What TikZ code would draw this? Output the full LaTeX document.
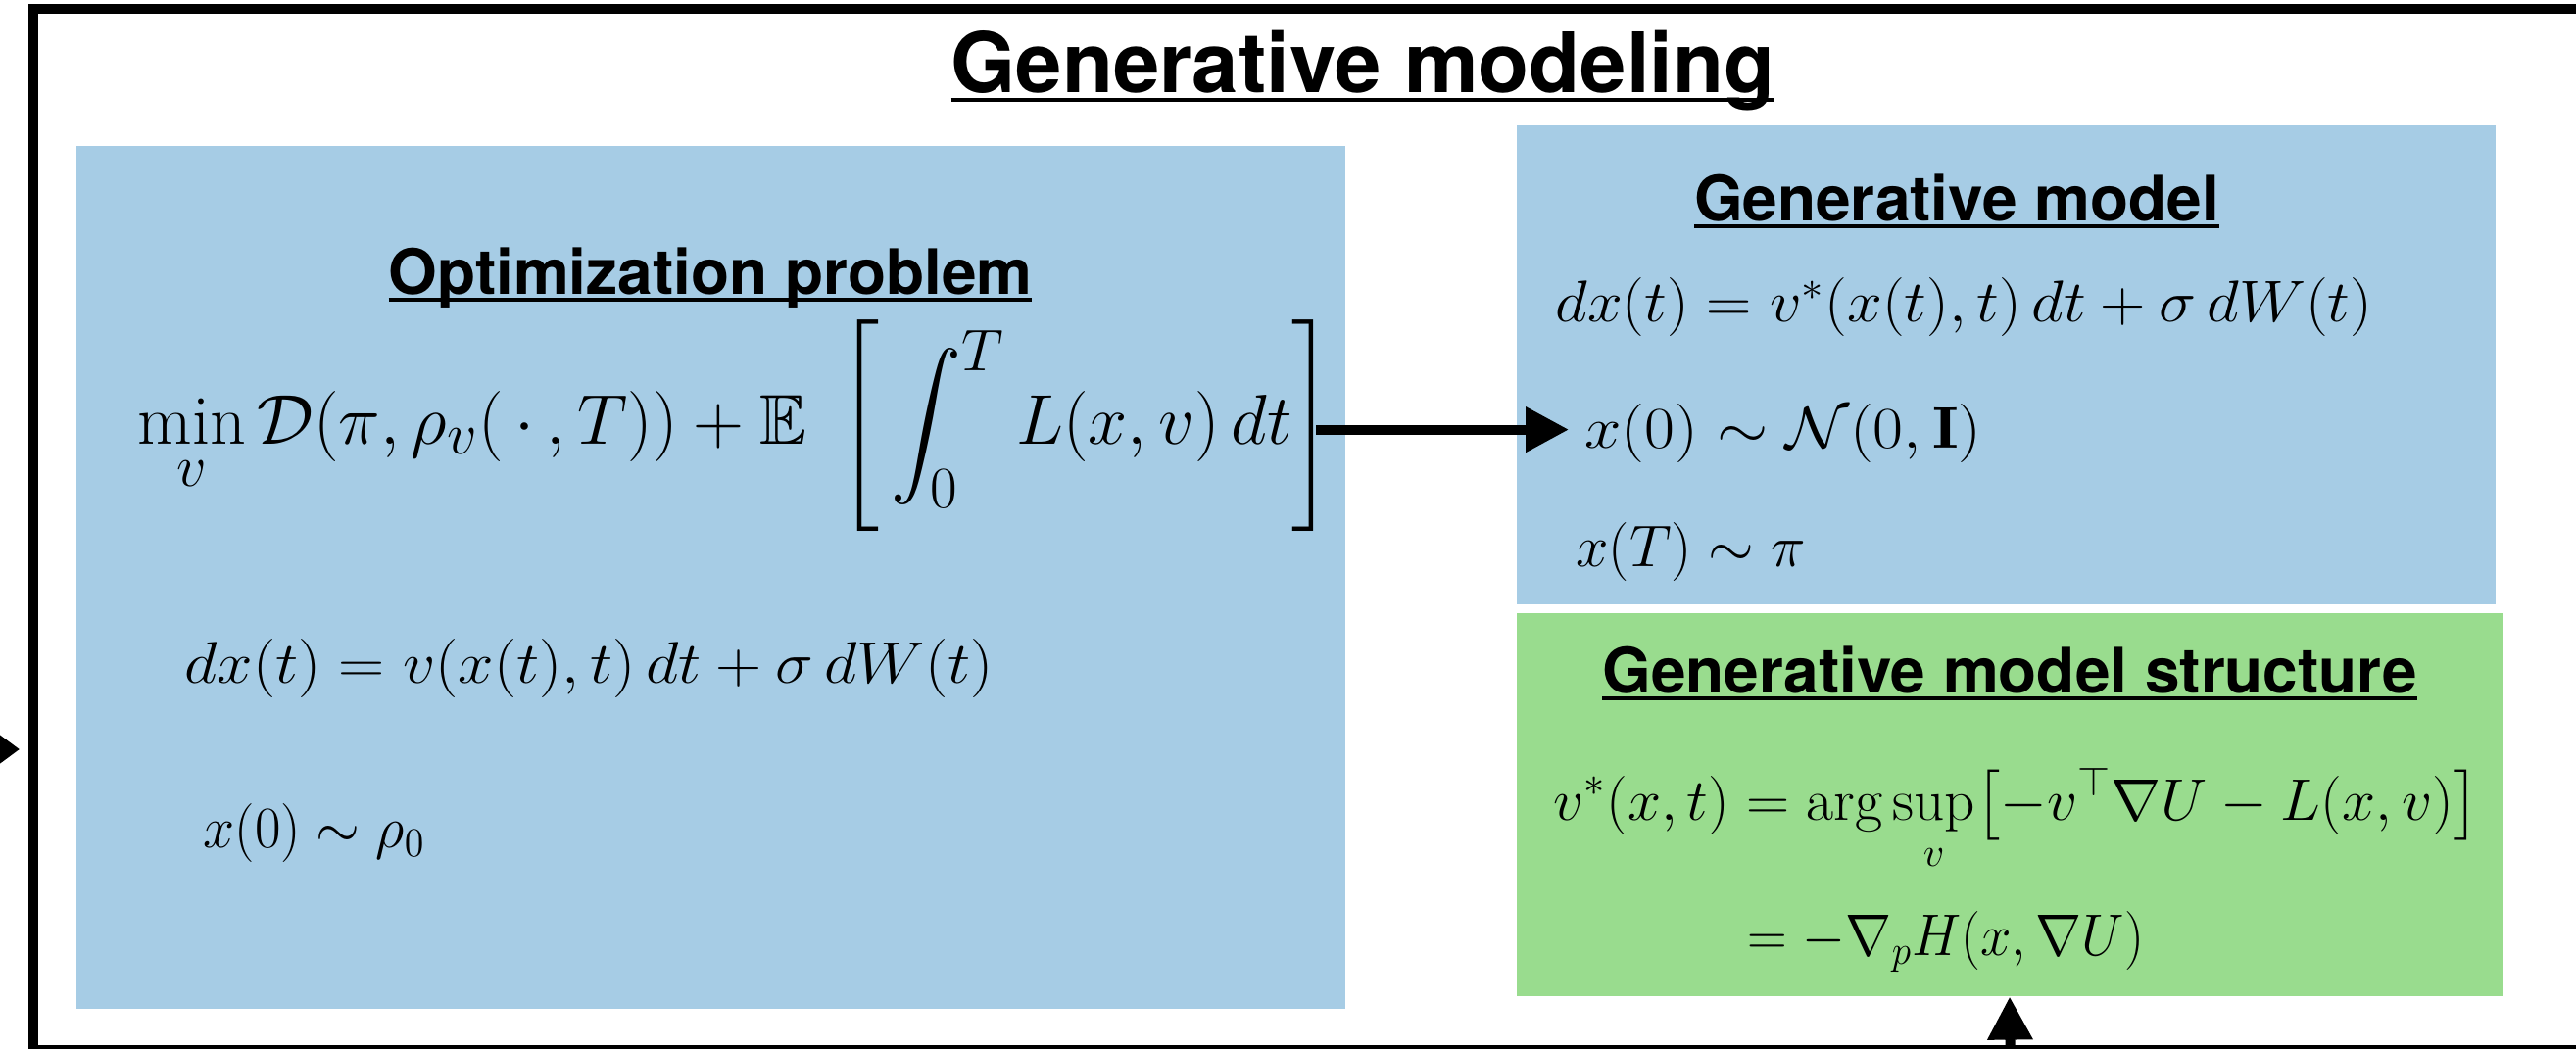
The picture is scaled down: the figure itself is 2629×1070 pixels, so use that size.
\documentclass[tikz,border=0pt]{standalone}
\usepackage{amsmath}
\usepackage{amssymb}
\usepackage{fontspec}
\setsansfont{TeX Gyre Heros}
\usetikzlibrary{positioning,fit,arrows.meta}
\definecolor{optblue}{RGB}{166,204,229}
\definecolor{structgreen}{RGB}{153,220,142}
\newcommand{\ultitle}[1]{\setbox0\hbox{#1}\rlap{\rule[-0.12em]{\wd0}{0.05em}}\box0}
\newcommand{\wide}[2]{\scalebox{#1}[1]{#2}}
\tikzset{box/.style={inner sep=0pt,fill=#1},
head/.style={inner sep=0pt,anchor=base,font=\sffamily\bfseries\fontsize{22.1}{26}\selectfont},
eq/.style={inner sep=0pt,anchor=base west,font=\fontsize{20.74}{25}\selectfont},
flow/.style={line width=3.456pt,-{Triangle[length=15.2pt,width=15.2pt]}}}

\begin{document}
\begin{tikzpicture}[x=0.3456pt,y=-0.3456pt]
    \useasboundingbox (0,0) rectangle (2629,1070);
    \clip (0,0) rectangle (2629,1070);
    % outer frame (runs past the page on the right and bottom)
    \draw[line width=3.456pt] (34,9) rectangle (2700,1072);
    \node[head,font=\sffamily\bfseries\fontsize{29.4}{34}\selectfont] (title) at (1391,94) {\ultitle{Generative modeling}};

    \node[box=optblue,fit={(78,149) (1373,1030)}] (optbox) {};
    \node[box=optblue,fit={(1548,128) (2547,617)}] (genbox) {};
    \node[box=structgreen,fit={(1548,626) (2554,1017)}] (structbox) {};

    % optimization problem
    \node[head] (opttitle) at (725,300) {\ultitle{Optimization problem}};
    \node[eq,font=\fontsize{24.88}{30}\selectfont] (obj) at (140,453) {$\displaystyle \min_v \mathcal{D}(\pi,\rho_v(\,\cdot\,,T))+\mathbb{E}\;\left[\rule[-1.35em]{0pt}{3.1em}\int_0^T L(x,v)\,dt\right]$};
    \node[eq] (dyn) at (188,697) {\wide{1.09}{$dx(t)=v(x(t),t)\,dt+\sigma\,dW(t)$}};
    \node[eq] (start) at (207,865) {\wide{0.96}{$x(0)\sim\rho_0$}};

    % generative model
    \node[head] (gentitle) at (1997,225) {\ultitle{Generative model}};
    \node[eq] (gendyn) at (1587,328) {\wide{1.07}{$dx(t)=v^{*}(x(t),t)\,dt+\sigma\,dW(t)$}};
    \node[eq] (init) at (1617,457) {\wide{1.12}{$x(0)\sim\mathcal{N}(0,\mathbf{I})$}};
    \node[eq] (final) at (1608,578) {$x(T)\sim\pi$};

    % structure
    \node[head] (structtitle) at (2051,707) {\ultitle{Generative model structure}};
    \node[eq] (argsup) at (1585,837) {\wide{1.02}{$\displaystyle v^{*}(x,t)=\arg\sup_v\bigl[-v^{\top}\nabla U-L(x,v)\bigr]$}};
    \node[eq] (hamil) at (1783,975) {\wide{0.94}{$=-\nabla_pH(x,\nabla U)$}};

    \coordinate (fromleft) at (-40,765);
    \coordinate (intoframe) at (20,765);
    \coordinate (frombelow) at (2052,1110);

    \draw[flow] ([xshift=-6.2pt]obj.east) -- ([xshift=-5.5pt]obj.east -| init.west);
    \draw[flow,-{Triangle[length=10.4pt,width=14.5pt]}] (fromleft) -- (intoframe);
    \draw[flow] (frombelow) -- (structbox.south);
\end{tikzpicture}
\end{document}
